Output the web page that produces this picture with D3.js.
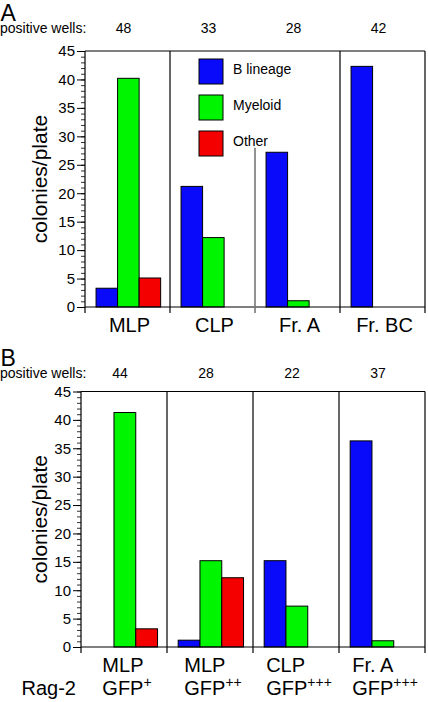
<!DOCTYPE html>
<html>
<head>
<meta charset="utf-8">
<script src="https://cdn.jsdelivr.net/npm/d3@7"></script>
<style>
  html, body { margin: 0; padding: 0; background: #fff; }
  svg { display: block; }
  text { font-family: "Liberation Sans", Arial, Helvetica, sans-serif; fill: #000; }
</style>
</head>
<body>
<svg id="chart" width="428" height="702"></svg>
<script>
// ---------- data ----------
const seriesNames = ["B lineage", "Myeloid", "Other"];
const seriesColors = ["#0a0afa", "#00f500", "#f50000"];
const yTicks = [0, 5, 10, 15, 20, 25, 30, 35, 40, 45];

const groupsA = ["MLP", "CLP", "Fr. A", "Fr. BC"];
const wellsA = [48, 33, 28, 42];
const bLineageA = [3.3, 21.2, 27.2, 42.3];
const myeloidA = [40.2, 12.2, 1.1, 0];
const otherA = [5.1, 0, 0, 0];

const groupsB = ["MLP", "MLP", "CLP", "Fr. A"];
const gfpB = ["+", "++", "+++", "+++"];
const wellsB = [44, 28, 22, 37];
const bLineageB = [0, 1.2, 15.2, 36.3];
const myeloidB = [41.3, 15.2, 7.2, 1.1];
const otherB = [3.2, 12.2, 0, 0];

// ---------- drawing ----------
const svg = d3.select("#chart");
const FONT = '"Liberation Sans", Arial, Helvetica, sans-serif';

function drawPanel(cfg) {
  const g = svg.append("g");
  const x = d3.scaleBand().domain(d3.range(cfg.groups.length)).range([cfg.x0, cfg.x1]);
  const inner = d3.scaleBand().domain(seriesNames)
    .range([x.bandwidth() * 0.13, x.bandwidth() * 0.89]);
  const y = d3.scaleLinear().domain([0, 45]).range([cfg.yZero, cfg.yTop]);

  // panel letter
  g.append("text").attr("x", 0.5).attr("y", cfg.letterY)
    .style("font-size", "23px").text(cfg.letter);

  // positive wells
  g.append("text").attr("x", 0).attr("y", cfg.wellsY)
    .style("font-size", "14px").text("positive wells:");
  g.selectAll(".wells").data(cfg.wells).join("text")
    .attr("x", (d, i) => x(i) + x.bandwidth() / 2 - 4)
    .attr("y", cfg.wellsY)
    .attr("text-anchor", "middle")
    .style("font-size", "14px")
    .text(d => d);

  // bars
  const rows = [];
  cfg.groups.forEach((grp, i) => {
    cfg.values.forEach((vals, s) => {
      if (vals[i] > 0) rows.push({ i, s, v: vals[i] });
    });
  });
  g.selectAll(".bar").data(rows).join("rect")
    .attr("x", d => x(d.i) + inner(seriesNames[d.s]))
    .attr("width", inner.bandwidth())
    .attr("y", d => y(d.v))
    .attr("height", d => y(0) - y(d.v))
    .attr("fill", d => seriesColors[d.s])
    .attr("stroke", "#000")
    .attr("stroke-width", 1);

  // y axis with minor ticks
  const minor = d3.axisLeft(y).tickValues(d3.range(0, 46, 1)).tickSize(4).tickFormat("");
  g.append("g").attr("transform", `translate(${cfg.x0},0)`).call(minor)
    .call(a => a.select(".domain").remove())
    .selectAll("line").attr("stroke", "#333");
  const major = d3.axisLeft(y).tickValues(yTicks).tickSize(8).tickPadding(2);
  const ax = g.append("g").attr("transform", `translate(${cfg.x0},0)`).call(major);
  ax.select(".domain").remove();
  ax.selectAll("line").attr("stroke", "#000");
  ax.selectAll("text").style("font-size", "15px").style("font-family", FONT).attr("fill", "#000");

  // frame: y axis line, top, bottom, dividers
  const ext = 6;
  g.append("line").attr("x1", cfg.x0).attr("x2", cfg.x0)
    .attr("y1", y(45)).attr("y2", y(0) + ext).attr("stroke", "#000").attr("stroke-width", 1.2);
  g.append("line").attr("x1", cfg.x0).attr("x2", cfg.x1)
    .attr("y1", y(45)).attr("y2", y(45)).attr("stroke", "#000").attr("stroke-width", 1.2);
  g.append("line").attr("x1", cfg.x0).attr("x2", cfg.x1)
    .attr("y1", y(0)).attr("y2", y(0)).attr("stroke", "#000").attr("stroke-width", 1.2);
  d3.range(1, cfg.groups.length + 1).forEach(i => {
    const xx = i < cfg.groups.length ? x(i) : cfg.x1;
    const gray = cfg.grayDivider === i;
    g.append("line").attr("x1", xx).attr("x2", xx)
      .attr("y1", gray ? y(cfg.grayTop) : y(45)).attr("y2", y(0) + ext)
      .attr("stroke", gray ? "#777" : "#000").attr("stroke-width", gray ? 1.6 : 1.2);
  });

  // y label
  g.append("text")
    .attr("transform", `translate(47,${(y(0) + y(45)) / 2}) rotate(-90)`)
    .attr("text-anchor", "middle")
    .style("font-size", "21px")
    .text("colonies/plate");

  return { g, x, y };
}

// Panel A
const pA = drawPanel({
  letter: "A", letterY: 21, wellsY: 33,
  groups: groupsA, wells: wellsA,
  values: [bLineageA, myeloidA, otherA],
  x0: 85, x1: 425, yTop: 51, yZero: 307,
  grayDivider: 2, grayTop: 28
});
pA.g.selectAll(".xlab").data(groupsA).join("text")
  .attr("x", (d, i) => pA.x(i) + pA.x.bandwidth() / 2 + 2)
  .attr("y", 331.5)
  .attr("text-anchor", "middle")
  .style("font-size", "20px")
  .text(d => d);

// legend
const legend = pA.g.append("g");
seriesNames.forEach((name, i) => {
  legend.append("rect").attr("x", 199).attr("y", 59 + i * 36)
    .attr("width", 24).attr("height", 25)
    .attr("fill", seriesColors[i]).attr("stroke", "#000").attr("stroke-width", 1);
  legend.append("text").attr("x", 233).attr("y", 59 + i * 36 + 14.5)
    .style("font-size", "14px").text(name);
});

// Panel B
const pB = drawPanel({
  letter: "B", letterY: 366, wellsY: 377.5,
  groups: groupsB, wells: wellsB,
  values: [bLineageB, myeloidB, otherB],
  x0: 81, x1: 425, yTop: 391.5, yZero: 647
});
groupsB.forEach((name, i) => {
  const cx = pB.x(i) + pB.x.bandwidth() / 2 + 3;
  const lg = pB.g.append("g");
  const t2 = lg.append("text").attr("y", 695).style("font-size", "20px");
  t2.append("tspan").text("GFP");
  t2.append("tspan").attr("dy", -8).style("font-size", "14px").text(gfpB[i]);
  const w = t2.node().getComputedTextLength();
  const left = cx - w / 2;
  t2.attr("x", left);
  lg.append("text").attr("x", left).attr("y", 671.5).style("font-size", "20px").text(name);
});
pB.g.append("text").attr("x", 21.5).attr("y", 695).style("font-size", "20px").text("Rag-2");
</script>
</body>
</html>
